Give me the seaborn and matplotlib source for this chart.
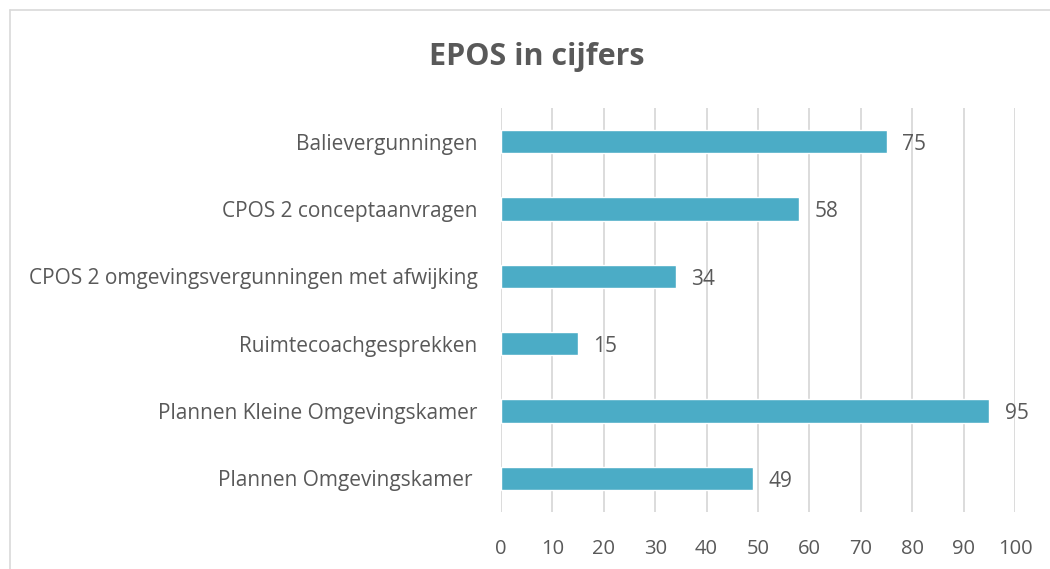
import matplotlib
matplotlib.use("Agg")
import matplotlib.pyplot as plt
import seaborn as sns
import pandas as pd
from matplotlib.lines import Line2D

categories = [
    "Balievergunningen",
    "CPOS 2 conceptaanvragen",
    "CPOS 2 omgevingsvergunningen met afwijking",
    "Ruimtecoachgesprekken",
    "Plannen Kleine Omgevingskamer",
    "Plannen Omgevingskamer ",
]
values = [75, 58, 34, 15, 95, 49]
x_ticks = [0, 10, 20, 30, 40, 50, 60, 70, 80, 90, 100]

sns.set_theme(style="white")
plt.rcParams["font.family"] = ["Open Sans", "DejaVu Sans"]

TEXT = "#595959"
GRID = "#D9D9D9"
BAR = "#4BACC6"

df = pd.DataFrame({"cat": categories, "val": values})

fig = plt.figure(figsize=(10.5, 5.69), dpi=100)
ax = fig.add_axes([501 / 1050, 1 - 512 / 569, (1015 - 501) / 1050, (512 - 108) / 569])

sns.barplot(data=df, y="cat", x="val", orient="h", color=BAR, saturation=1,
            width=0.35, ax=ax)

ax.set_xlim(0, 100)
ax.set_ylim(5.5, -0.5)
ax.set_xticks(x_ticks)
ax.set_xticklabels([str(t) for t in x_ticks])
ax.grid(axis="x", color=GRID, linewidth=1.3)
ax.set_axisbelow(True)
for s in ax.spines.values():
    s.set_visible(False)
ax.set_xlabel("")
ax.set_ylabel("")
ax.tick_params(axis="x", length=0, pad=19.5, labelsize=14.5, labelcolor=TEXT)
ax.tick_params(axis="y", length=0, pad=17, labelsize=15, labelcolor=TEXT)

for i, v in enumerate(values):
    ax.annotate(str(v), xy=(v, i), xytext=(11, -2), textcoords="offset points",
                va="center", ha="left", fontsize=15, color=TEXT)

fig.text(537 / 1050, 1 - 57 / 569, "EPOS in cijfers", ha="center", va="center",
         fontsize=22, fontweight="bold", color=TEXT)

# chart area border (left and top visible)
fig.add_artist(Line2D([9.5 / 1050, 9.5 / 1050], [0, 1 - 9.5 / 569],
                      transform=fig.transFigure, color="#D9D9D9", linewidth=1.2))
fig.add_artist(Line2D([9.5 / 1050, 1], [1 - 9.5 / 569, 1 - 9.5 / 569],
                      transform=fig.transFigure, color="#D9D9D9", linewidth=1.2))

fig.savefig("out.png", dpi=100, facecolor="white")
